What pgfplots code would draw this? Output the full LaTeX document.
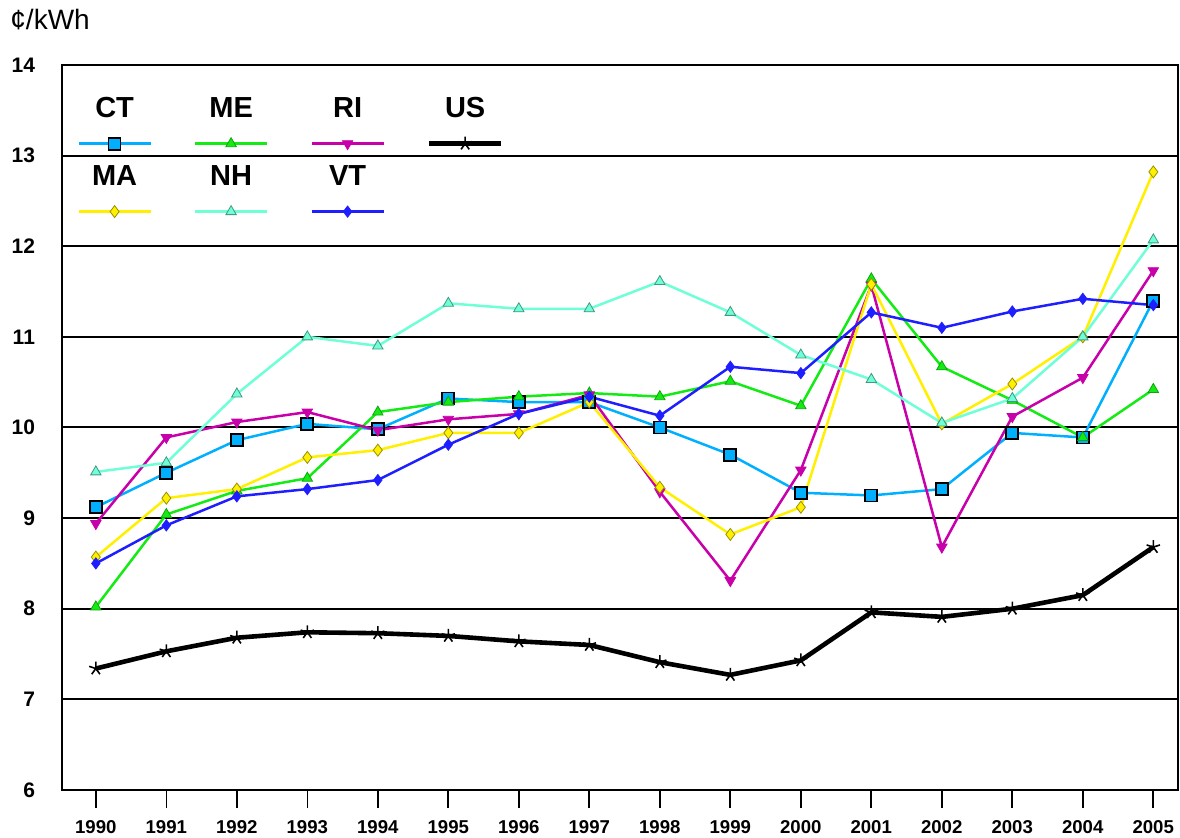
\documentclass[border=0pt]{standalone}
\usepackage{fontspec}
\setmainfont{Liberation Sans}
\usepackage{pgfplots}
\usepackage{pgfplotstable}
\pgfplotsset{compat=1.18}
\definecolor{ctc}{RGB}{0,176,255}
\definecolor{mec}{RGB}{20,235,20}
\definecolor{ric}{RGB}{200,0,170}
\definecolor{mac}{RGB}{255,240,0}
\definecolor{nhc}{RGB}{110,255,215}
\definecolor{vtc}{RGB}{30,30,255}
\pgfplotstableread{
Year CT ME RI US MA NH VT
1990 9.12 8.02 8.94 7.34 8.57 9.51 8.50
1991 9.50 9.04 9.89 7.53 9.22 9.61 8.92
1992 9.86 9.30 10.06 7.68 9.32 10.37 9.24
1993 10.04 9.44 10.17 7.74 9.67 11.00 9.32
1994 9.98 10.17 9.97 7.73 9.75 10.90 9.42
1995 10.32 10.28 10.09 7.70 9.94 11.37 9.81
1996 10.28 10.34 10.15 7.64 9.94 11.31 10.15
1997 10.28 10.38 10.36 7.60 10.28 11.31 10.34
1998 10.00 10.34 9.29 7.41 9.34 11.61 10.13
1999 9.70 10.51 8.31 7.27 8.82 11.27 10.67
2000 9.28 10.24 9.53 7.43 9.12 10.80 10.60
2001 9.25 11.64 11.57 7.96 11.58 10.53 11.27
2002 9.32 10.67 8.68 7.91 10.04 10.05 11.10
2003 9.94 10.30 10.12 8.00 10.48 10.32 11.28
2004 9.89 9.89 10.55 8.15 11.00 11.00 11.42
2005 11.40 10.42 11.73 8.68 12.82 12.07 11.35
}\datatable
\pgfplotsset{legimg/.style={legend image code/.code={%
  \draw[mark repeat=2,mark phase=2] plot coordinates {(0pt,0pt) (18pt,0pt) (36pt,0pt)};%
  \node[text=black,draw=none,fill=none,font=\fontsize{14.5}{16}\selectfont\bfseries,inner sep=0pt,anchor=base] at (18pt,13pt) {#1};}}}
\begin{document}
\begin{tikzpicture}
\useasboundingbox (-31pt,-24pt) rectangle (559pt,395pt);
\begin{axis}[at={(0,0)}, anchor=south west, scale only axis,
  width=558pt, height=362.5pt,
  xmin=1989.52, xmax=2005.35, ymin=6, ymax=14,
  xtick={1990,...,2005}, ytick={6,...,14},
  /pgf/number format/assume math mode=true,
  /pgf/number format/set thousands separator={},
  xticklabel style={font=\fontsize{9.3}{10}\selectfont\bfseries, yshift=-2.5pt},
  yticklabel style={font=\fontsize{10.5}{12}\selectfont\bfseries, anchor=east, xshift=-10pt},
  ymajorgrids, grid style={black, line width=1pt},
  axis line style={black, line width=1pt},
  xtick align=outside, tick pos=left,
  ytick style={draw=none},
  xtick style={black, line width=0.8pt},
  major tick length=9pt,
  clip=false,
  legend columns=4,
  legend style={draw=none, fill=none, inner sep=0pt,
    at={(0.0134,0.9558)}, anchor=north west,
    row sep=8pt, column sep=0pt,
    /tikz/every even column/.append style={column sep=20pt},
    nodes={inner sep=0pt}},
]
\addplot[ctc, line width=1.25pt, mark=square*, mark size=3pt,
  mark options={fill=ctc, draw=black, line width=0.9pt}, legimg=CT]
  table[x=Year, y=CT] {\datatable};
\addlegendentry{\hbox{}}
\addplot[mec, line width=1.25pt, mark=triangle*, mark size=3pt,
  mark options={fill=mec, draw=mec!70!black, line width=0.4pt}, legimg=ME]
  table[x=Year, y=ME] {\datatable};
\addlegendentry{\hbox{}}
\addplot[ric, line width=1.25pt, mark=triangle*, mark size=3pt,
  mark options={fill=ric, draw=ric, rotate=180, line width=0.4pt}, legimg=RI]
  table[x=Year, y=RI] {\datatable};
\addlegendentry{\hbox{}}
\addplot[black, line width=2.3pt, mark=star, mark size=3.5pt,
  mark options={draw=black, line width=0.8pt}, legimg=US]
  table[x=Year, y=US] {\datatable};
\addlegendentry{\hbox{}}
\addplot[mac, line width=1.25pt, mark=diamond*, mark size=3pt,
  mark options={fill=mac, draw=mac!60!black, line width=0.4pt}, legimg=MA]
  table[x=Year, y=MA] {\datatable};
\addlegendentry{\hbox{}}
\addplot[nhc, line width=1.25pt, mark=triangle*, mark size=3pt,
  mark options={fill=nhc, draw=nhc!60!black, line width=0.4pt}, legimg=NH]
  table[x=Year, y=NH] {\datatable};
\addlegendentry{\hbox{}}
\addplot[vtc, line width=1.25pt, mark=diamond*, mark size=2.8pt,
  mark options={fill=vtc, draw=vtc, line width=0.4pt}, legimg=VT]
  table[x=Year, y=VT] {\datatable};
\addlegendentry{\hbox{}}
\node[anchor=base west, font=\fontsize{14}{16}\selectfont, inner sep=0pt]
  at ([xshift=-26pt,yshift=17.5pt]axis description cs:0,1) {¢/kWh};
\end{axis}
\end{tikzpicture}
\end{document}
